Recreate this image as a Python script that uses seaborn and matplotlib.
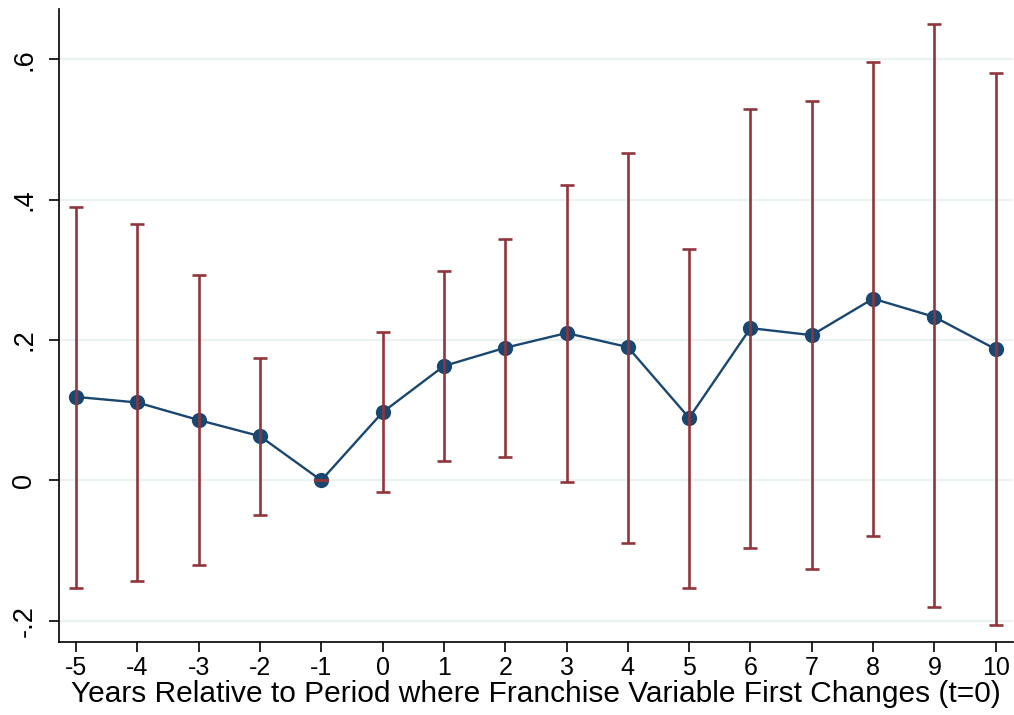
import matplotlib
matplotlib.use("Agg")
import matplotlib.pyplot as plt
import seaborn as sns
import pandas as pd

periods = [-5, -4, -3, -2, -1, 0, 1, 2, 3, 4, 5, 6, 7, 8, 9, 10]
coef = [0.119, 0.111, 0.086, 0.063, 0.0, 0.097, 0.163, 0.189, 0.210, 0.190,
        0.089, 0.217, 0.207, 0.259, 0.233, 0.187]
upper = [0.389, 0.366, 0.293, 0.174, 0.0, 0.211, 0.299, 0.344, 0.421, 0.467,
         0.330, 0.529, 0.541, 0.596, 0.650, 0.580]
lower = [-0.153, -0.143, -0.121, -0.050, 0.0, -0.017, 0.027, 0.033, -0.003, -0.089,
         -0.153, -0.096, -0.127, -0.080, -0.181, -0.206]
yticks = [-0.2, 0.0, 0.2, 0.4, 0.6]
ytick_labels = ["-.2", "0", ".2", ".4", ".6"]
xlabel = "Years Relative to Period where Franchise Variable First Changes (t=0)"

df = pd.DataFrame({"t": periods, "coef": coef, "upper": upper, "lower": lower})

sns.set_style("white")
plt.rcParams["font.family"] = ["Liberation Sans", "DejaVu Sans"]

fig = plt.figure(figsize=(10.14, 7.15), dpi=100)
ax = fig.add_axes([0.0582, 0.1025, 0.9405, 0.885])

navy = "#1a476f"
red = "#90353b"

sns.lineplot(data=df, x="t", y="coef", ax=ax, color=navy, linewidth=1.7,
             marker="o", markersize=11, markeredgewidth=0, zorder=3)
ax.errorbar(df["t"], df["coef"],
            yerr=[df["coef"] - df["lower"], df["upper"] - df["coef"]],
            fmt="none", ecolor=red, elinewidth=1.9, capsize=4.8, capthick=1.9,
            zorder=4)

ax.set_xlim(-5.277, 10.277)
ax.set_ylim(-0.230, 0.672)
ax.set_xticks(periods)
ax.set_xticklabels([str(p) for p in periods])
ax.set_yticks(yticks)
ax.set_yticklabels(ytick_labels, rotation=90, va="center")

ax.grid(axis="y", color="#eaf2f3", linewidth=1.6, zorder=0)
ax.grid(axis="x", visible=False)
ax.set_axisbelow(True)

for s in ["top", "right"]:
    ax.spines[s].set_visible(False)
for s in ["left", "bottom"]:
    ax.spines[s].set_color("black")
    ax.spines[s].set_linewidth(1.2)

ax.tick_params(axis="both", which="major", direction="out", length=7.5, width=1.2,
               color="black", labelcolor="black", bottom=True, left=True)
ax.tick_params(axis="x", labelsize=18, pad=3)
ax.tick_params(axis="y", labelsize=19.5, pad=8)

ax.set_xlabel(xlabel, fontsize=21.5, labelpad=0, color="black")
ax.set_ylabel("")

fig.savefig("out.png", dpi=100, facecolor="white")
